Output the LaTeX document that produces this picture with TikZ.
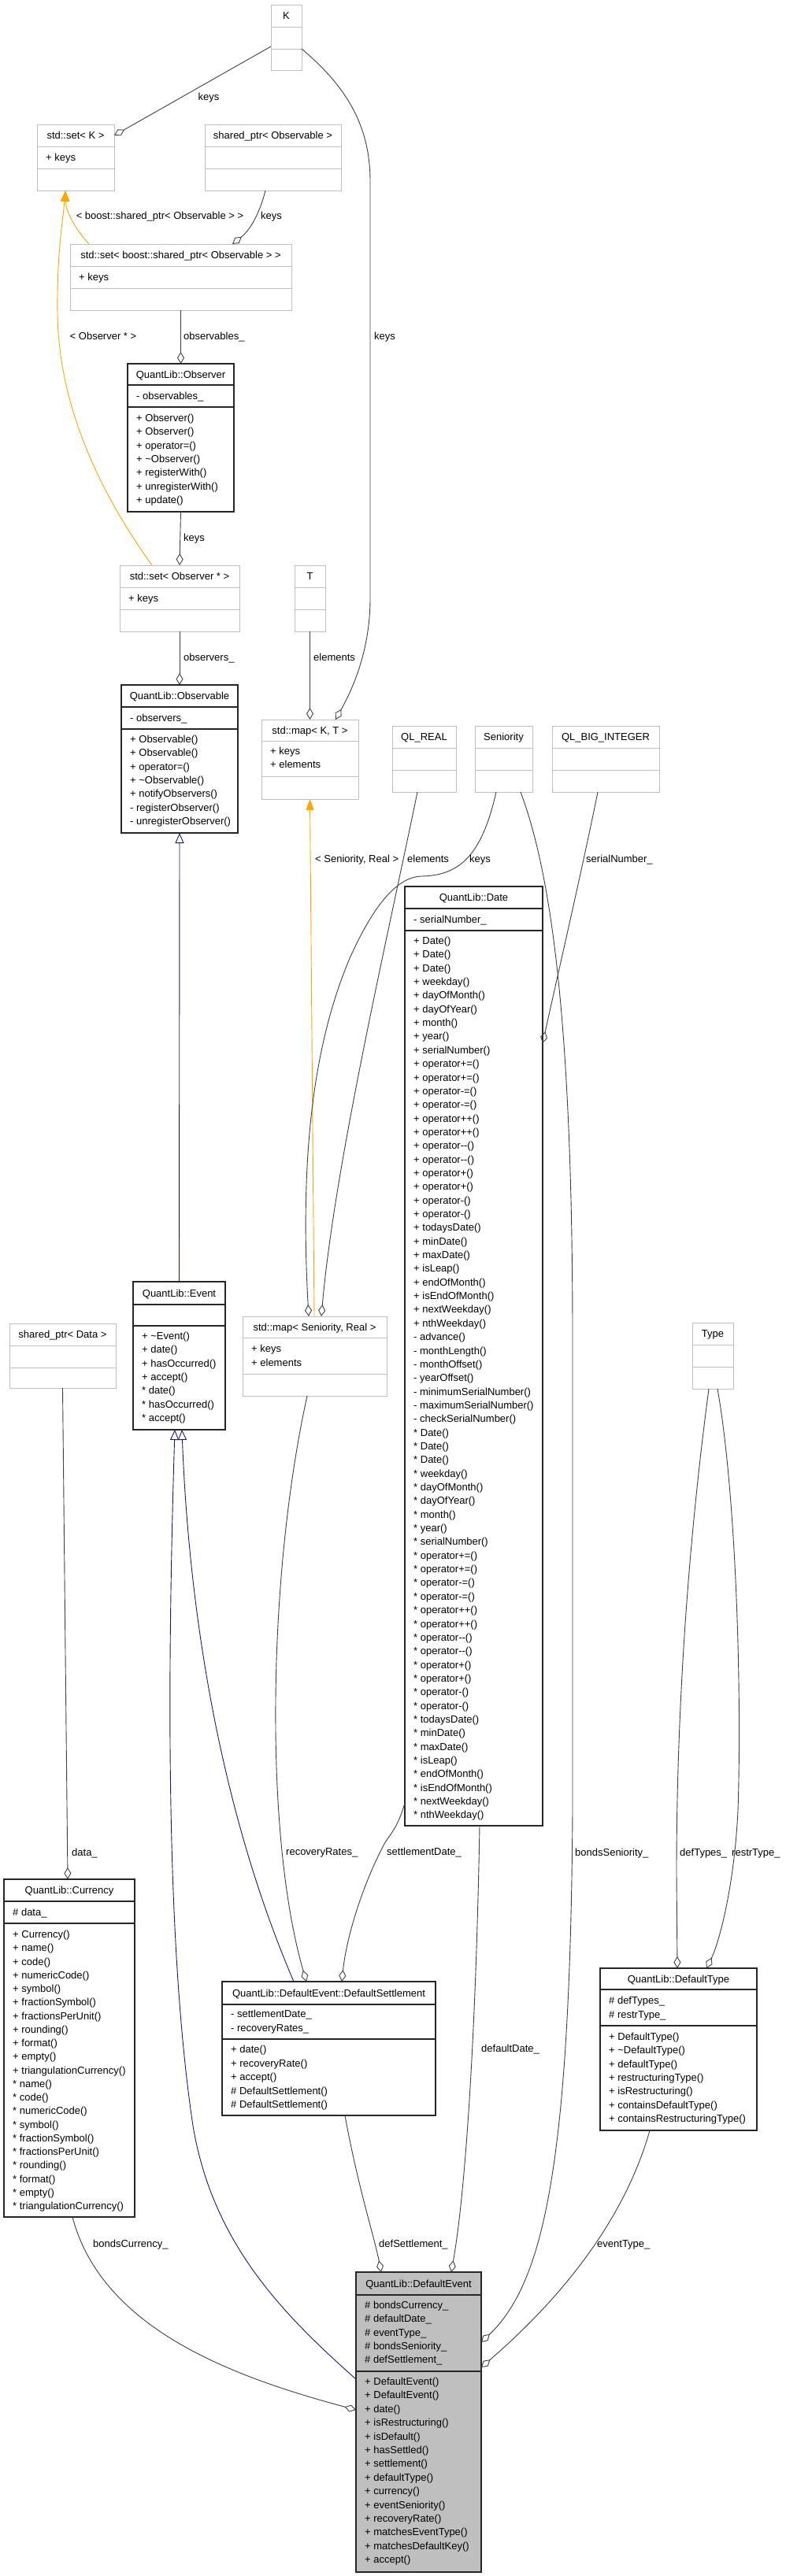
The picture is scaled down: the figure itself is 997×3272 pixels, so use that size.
\documentclass[tikz,border=0pt]{standalone}
\usepackage{fontspec}
\newfontfamily\umlfont{Liberation Sans}
\usetikzlibrary{arrows.meta}
\definecolor{gbord}{HTML}{BFBFBF}
\definecolor{edgec}{HTML}{404040}
\definecolor{orangec}{HTML}{FFA500}
\definecolor{navyc}{HTML}{191970}
\definecolor{selfill}{HTML}{BFBFBF}
\tikzset{
  txt/.style={font=\umlfont\fontsize{13}{16}\selectfont, inner sep=0pt, text=black},
  lbl/.style={txt, anchor=base west},
  gbox/.style={draw=gbord, line width=1pt, inner sep=0pt, outer sep=0pt},
  gdiv/.style={draw=gbord, line width=1pt},
  bbox/.style={draw=black!85, line width=1.3pt, inner sep=0pt, outer sep=0pt},
  bdiv/.style={draw=black!85, line width=1.3pt},
  dbox/.style={draw=black!85, fill=selfill, line width=1.3pt, inner sep=0pt, outer sep=0pt},
  ddiv/.style={draw=black!85, line width=1.5pt},
  agg/.style={draw=edgec, line width=0.9pt, -{Diamond[open,length=15pt,width=9pt]}},
  tmpl/.style={draw=orangec, line width=0.9pt, -{Triangle[length=14pt,width=10pt]}},
  inh/.style={draw=navyc, line width=0.9pt, -{Triangle[open,length=13pt,width=11pt]}}
}
% #1 name, #2 style prefix, #3 left, #4 top, #5 right, #6 bottom, #7 div1, #8 div2, #9 title
\newcommand\umlbox[9]{%
  \node[#2box, name=#1, anchor=north west, minimum width={(#5-#3)*1pt}, minimum height={(#6-#4)*1pt}] at (#3,#4) {};
  \draw[#2div] (#3,#7) -- (#5,#7);
  \draw[#2div] (#3,#8) -- (#5,#8);
  \node[txt, anchor=base, name=#1-title] at ({(#3+#5)/2},{(#4+#7)/2+4.5}) {#9};
}
% #1 name, #2 x, #3 centre y of first line, #4 line step, #5 list
\newcommand\umllines[5]{%
  \foreach \t [count=\i from 0] in {#5} {
    \node[txt, anchor=base west, name=#1-\i] at (#2,{#3+4.5+\i*#4}) {\t};
  }
}
\begin{document}
\begin{tikzpicture}[x=1pt,y=-1pt]
\useasboundingbox (0,0) rectangle (997,3272);
\fill[white] (0,0) rectangle (997,3272);

% ---------- boxes ----------
\umlbox{K}{g}{344}{6}{383}{89}{34}{62}{K}
\umlbox{setK}{g}{47}{158}{145}{242}{186}{214}{std::set< K >}
\umllines{setK-a}{58}{200}{17.3}{+ keys}
\umlbox{spObs}{g}{260}{158}{433}{242}{186}{214}{shared\_ptr< Observable >}
\umlbox{setBoost}{g}{89}{310}{370}{394}{338}{366}{std::set< boost::shared\_ptr< Observable > >}
\umllines{setBoost-a}{100}{352}{17.3}{+ keys}
\umlbox{Observer}{b}{162}{462}{297}{650}{489}{517}{QuantLib::Observer}
\umllines{Observer-a}{173}{503}{17.3}{- observables\_}
\umllines{Observer-m}{173}{531}{17.35}{+ Observer(),+ Observer(),+ operator=(),+ \textasciitilde Observer(),+ registerWith(),+ unregisterWith(),+ update()}
\umlbox{setObs}{g}{152}{718}{304}{802}{746}{774}{std::set< Observer * >}
\umllines{setObs-a}{163}{760}{17.3}{+ keys}
\umlbox{T}{g}{374}{718}{413}{802}{746}{774}{T}
\umlbox{Observable}{b}{154}{870}{302}{1058}{898}{926}{QuantLib::Observable}
\umllines{Observable-a}{165}{912}{17.3}{- observers\_}
\umllines{Observable-m}{165}{939}{17.35}{+ Observable(),+ Observable(),+ operator=(),+ \textasciitilde Observable(),+ notifyObservers(),- registerObserver(),- unregisterObserver()}
\umlbox{mapKT}{g}{332}{914}{455}{1015}{941}{986}{std::map< K, T >}
\umllines{mapKT-a}{343}{954}{17.3}{+ keys,+ elements}
\umlbox{QLREAL}{g}{498}{922}{579}{1006}{950}{978}{QL\_REAL}
\umlbox{Seniority}{g}{603}{922}{676}{1006}{950}{978}{Seniority}
\umlbox{QLBIG}{g}{701}{922}{837}{1006}{950}{978}{QL\_BIG\_INTEGER}
\umlbox{Date}{b}{514}{1126}{689}{2319}{1154}{1182}{QuantLib::Date}
\umllines{Date-a}{525}{1168}{17.3}{- serialNumber\_}
\umllines{Date-m}{525}{1195}{17.35}{+ Date(),+ Date(),+ Date(),+ weekday(),+ dayOfMonth(),+ dayOfYear(),+ month(),+ year(),+ serialNumber(),+ operator+=(),+ operator+=(),+ operator-=(),+ operator-=(),+ operator++(),+ operator++(),+ operator-{}-(),+ operator-{}-(),+ operator+(),+ operator+(),+ operator-(),+ operator-(),+ todaysDate(),+ minDate(),+ maxDate(),+ isLeap(),+ endOfMonth(),+ isEndOfMonth(),+ nextWeekday(),+ nthWeekday(),- advance(),- monthLength(),- monthOffset(),- yearOffset(),- minimumSerialNumber(),- maximumSerialNumber(),- checkSerialNumber(),* Date(),* Date(),* Date(),* weekday(),* dayOfMonth(),* dayOfYear(),* month(),* year(),* serialNumber(),* operator+=(),* operator+=(),* operator-=(),* operator-=(),* operator++(),* operator++(),* operator-{}-(),* operator-{}-(),* operator+(),* operator+(),* operator-(),* operator-(),* todaysDate(),* minDate(),* maxDate(),* isLeap(),* endOfMonth(),* isEndOfMonth(),* nextWeekday(),* nthWeekday()}
\umlbox{Event}{b}{169}{1628}{286}{1816}{1657}{1684}{QuantLib::Event}
\umllines{Event-m}{180}{1697}{17.35}{+ \textasciitilde Event(),+ date(),+ hasOccurred(),+ accept(),* date(),* hasOccurred(),* accept()}
\umlbox{mapSR}{g}{308}{1672}{491}{1773}{1699}{1745}{std::map< Seniority, Real >}
\umllines{mapSR-a}{319}{1713}{17.5}{+ keys,+ elements}
\umlbox{spData}{g}{12}{1681}{147}{1763}{1709}{1737}{shared\_ptr< Data >}
\umlbox{Type}{g}{879}{1680}{931}{1764}{1708}{1736}{Type}
\umlbox{DefaultType}{b}{762}{2500}{961}{2706}{2527}{2573}{QuantLib::DefaultType}
\umllines{DefaultType-a}{773}{2541}{17.5}{\# defTypes\_,\# restrType\_}
\umllines{DefaultType-m}{773}{2587}{17.3}{+ DefaultType(),+ \textasciitilde DefaultType(),+ defaultType(),+ restructuringType(),+ isRestructuring(),+ containsDefaultType(),+ containsRestructuringType()}
\umlbox{Currency}{b}{5}{2387}{171}{2816}{2415}{2443}{QuantLib::Currency}
\umllines{Currency-a}{16}{2429}{17.3}{\# data\_}
\umllines{Currency-m}{16}{2457}{17.25}{+ Currency(),+ name(),+ code(),+ numericCode(),+ symbol(),+ fractionSymbol(),+ fractionsPerUnit(),+ rounding(),+ format(),+ empty(),+ triangulationCurrency(),* name(),* code(),* numericCode(),* symbol(),* fractionSymbol(),* fractionsPerUnit(),* rounding(),* format(),* empty(),* triangulationCurrency()}
\umlbox{DefaultSettlement}{b}{282}{2517}{553}{2687}{2546}{2590}{QuantLib::DefaultEvent::DefaultSettlement}
\umllines{DefaultSettlement-a}{293}{2558}{18}{- settlementDate\_,- recoveryRates\_}
\umllines{DefaultSettlement-m}{293}{2603}{17.5}{+ date(),+ recoveryRate(),+ accept(),\# DefaultSettlement(),\# DefaultSettlement()}
\umlbox{DefaultEvent}{d}{452}{2886}{611}{3267}{2915}{3012}{QuantLib::DefaultEvent}
\umllines{DefaultEvent-a}{463}{2928}{17.3}{\# bondsCurrency\_,\# defaultDate\_,\# eventType\_,\# bondsSeniority\_,\# defSettlement\_}
\umllines{DefaultEvent-m}{463}{3025}{17.4}{+ DefaultEvent(),+ DefaultEvent(),+ date(),+ isRestructuring(),+ isDefault(),+ hasSettled(),+ settlement(),+ defaultType(),+ currency(),+ eventSeniority(),+ recoveryRate(),+ matchesEventType(),+ matchesDefaultKey(),+ accept()}

% ---------- connectors ----------
\draw[agg] ([yshift=-53pt]K.north west) -- ([yshift=-14pt]setK.north east);
\draw[agg] ([yshift=-56pt]K.north east) .. controls (440,110) and (470,160) .. (470,230) -- (470,760) .. controls (470,830) and (445,880) .. ([xshift=94pt]mapKT.north west);
\draw[agg] ([xshift=77pt]spObs.south west) .. controls (330,270) and (318,292) .. ([xshift=206pt]setBoost.north west);
\draw[tmpl] ([xshift=24pt]setBoost.north west) .. controls (95,290) and (84,270) .. ([xshift=36pt]setK.south west);
\draw[tmpl] ([xshift=41pt]setObs.north west) .. controls (130,630) and (75,520) .. (73,400) .. controls (72,320) and (80,280) .. ([xshift=36pt]setK.south west);
\draw[agg] (setBoost.south) -- (Observer.north);
\draw[agg] (Observer.south) -- (setObs.north);
\draw[agg] (setObs.south) -- (Observable.north);
\draw[agg] (T.south) -- (mapKT.north);
\draw[inh] (Event.north) -- (Observable.south);
\draw[tmpl] ([xshift=91pt]mapSR.north west) -- (mapKT.south);
\draw[agg] ([xshift=32pt]QLREAL.south west) .. controls (490,1200) and (425,1480) .. ([xshift=100pt]mapSR.north west);
\draw[agg] ([xshift=27pt]Seniority.south west) .. controls (612,1085) and (585,1112) .. (535,1113) .. controls (500,1114) and (470,1160) .. (445,1215) .. controls (400,1320) and (380,1460) .. ([xshift=84pt]mapSR.north west);
\draw[agg] ([xshift=58pt]Seniority.south west) .. controls (700,1110) and (727,1300) .. (727,1700) -- (727,2300) .. controls (724,2750) and (690,2900) .. ([yshift=-89pt]DefaultEvent.north east);
\draw[agg] ([xshift=58pt]QLBIG.south west) .. controls (740,1100) and (710,1230) .. ([yshift=-199pt]Date.north east);
\draw[inh] ([yshift=-136pt]DefaultEvent.north west) .. controls (360,2940) and (270,2850) .. (245,2700) .. controls (215,2500) and (210,2200) .. ([xshift=53pt]Event.south west);
\draw[inh] ([xshift=91pt]DefaultSettlement.north west) .. controls (280,2300) and (240,2050) .. ([xshift=62pt]Event.south west);
\draw[agg] ([xshift=82pt]mapSR.south west) .. controls (340,2000) and (335,2330) .. ([xshift=107pt]DefaultSettlement.north west);
\draw[agg] ([yshift=-1164pt]Date.north west) .. controls (505,2322) and (495,2330) .. (488,2342) .. controls (460,2395) and (440,2460) .. ([xshift=152pt]DefaultSettlement.north west);
\draw[agg] ([xshift=95pt]Date.south west) .. controls (604,2600) and (590,2790) .. ([xshift=121pt]DefaultEvent.north west);
\draw[agg] ([xshift=156pt]DefaultSettlement.south west) .. controls (455,2780) and (475,2840) .. ([xshift=32pt]DefaultEvent.north west);
\draw[agg] ([xshift=63pt]DefaultType.south west) .. controls (790,2830) and (700,2930) .. ([yshift=-121pt]DefaultEvent.north east);
\draw[agg] ([xshift=87pt]Currency.south west) .. controls (130,2960) and (300,3020) .. ([yshift=-175pt]DefaultEvent.north west);
\draw[agg] (spData.south) -- ([xshift=81pt]Currency.north west);
\draw[agg] ([xshift=21pt]Type.south west) .. controls (870,1990) and (859,2200) .. (859,2380) -- ([xshift=98pt]DefaultType.north west);
\draw[agg] ([xshift=32pt]Type.south west) .. controls (935,1900) and (942,2150) .. (937,2300) .. controls (932,2400) and (912,2470) .. ([xshift=135pt]DefaultType.north west);

% ---------- connector labels ----------
\node[txt, anchor=base, name=l1] at (265,127.5) {keys};
\node[txt, anchor=base, name=l2] at (203,278.5) {< boost::shared\_ptr< Observable > >};
\node[lbl, name=l3] at (331,278.5) {keys};
\node[txt, anchor=base, name=l4] at (131,431.5) {< Observer * >};
\node[lbl, name=l5] at (233,431.5) {observables\_};
\node[lbl, name=l6] at (475,431.5) {keys};
\node[lbl, name=l7] at (233,687.5) {keys};
\node[lbl, name=l8] at (233,839.5) {observers\_};
\node[lbl, name=l9] at (398,839.5) {elements};
\node[lbl, name=l10] at (400,1095.5) {< Seniority, Real >};
\node[lbl, name=l11] at (517,1095.5) {elements};
\node[lbl, name=l12] at (596,1095.5) {keys};
\node[lbl, name=l13] at (744,1095.5) {serialNumber\_};
\node[lbl, name=l14] at (91,2357.5) {data\_};
\node[lbl, name=l15] at (363,2356.5) {recoveryRates\_};
\node[lbl, name=l16] at (491,2356.5) {settlementDate\_};
\node[lbl, name=l17] at (730,2357.5) {bondsSeniority\_};
\node[lbl, name=l18] at (863,2357.5) {defTypes\_};
\node[lbl, name=l19] at (929,2357.5) {restrType\_};
\node[lbl, name=l20] at (611,2606.5) {defaultDate\_};
\node[lbl, name=l21] at (118,2854.5) {bondsCurrency\_};
\node[lbl, name=l22] at (481,2854.5) {defSettlement\_};
\node[lbl, name=l23] at (758,2854.5) {eventType\_};
\end{tikzpicture}
\end{document}
